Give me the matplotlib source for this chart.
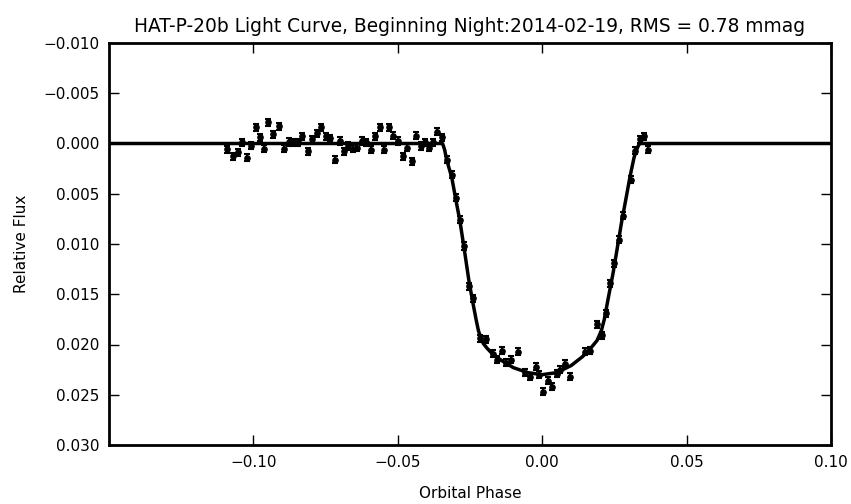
import numpy as np
import matplotlib
matplotlib.use("Agg")
import matplotlib.pyplot as plt

# --- light curve data (orbital phase, relative flux) ---
phase = [
    -0.1092, -0.1070, -0.1054, -0.1041, -0.1023, -0.1008, -0.0992, -0.0977,
    -0.0962, -0.0948, -0.0931, -0.0910, -0.0893, -0.0877, -0.0862, -0.0847,
    -0.0831, -0.0812, -0.0798, -0.0781, -0.0766, -0.0750, -0.0735, -0.0717,
    -0.0700, -0.0686, -0.0671, -0.0656, -0.0642, -0.0625, -0.0610, -0.0594,
    -0.0579, -0.0562, -0.0547, -0.0530, -0.0516, -0.0498, -0.0483, -0.0467,
    -0.0452, -0.0437, -0.0421, -0.0406, -0.0391, -0.0377, -0.0363, -0.0348,
    -0.0331, -0.0313, -0.0298, -0.0285, -0.0271, -0.0252, -0.0239, -0.0217,
    -0.0196, -0.0169, -0.0157, -0.0140, -0.0124, -0.0108, -0.0083, -0.0060,
    -0.0042, -0.0023, -0.0010, 0.0004, 0.0020, 0.0035, 0.0050, 0.0063,
    0.0079, 0.0096, 0.0148, 0.0166, 0.0189, 0.0206, 0.0221, 0.0235,
    0.0249, 0.0266, 0.0280, 0.0306, 0.0323, 0.0337, 0.0351, 0.0367,
]
flux = [
    0.00058, 0.00125, 0.00085, -0.0001, 0.0014, 0.0002, -0.0016, -0.0006,
    0.0005, -0.0021, -0.0009, -0.0017, 0.0005, -0.00015, -0.0001, -0.0001,
    -0.0007, 0.00075, -0.0004, -0.0010, -0.0016, -0.0007, -0.0005, 0.0016,
    -0.00025, 0.00075, 0.00025, 0.0005, 0.0004, -0.00025, -0.0001, 0.0006,
    -0.0007, -0.0016, 0.0006, -0.0016, -0.00075, -0.00025, 0.00125, 0.0004,
    0.00175, -0.00075, 0.00025, -0.0001, 0.0004, -0.0001, -0.00115, -0.0006,
    0.0016, 0.0031, 0.0054, 0.0076, 0.0102, 0.0142, 0.0154, 0.0194,
    0.0195, 0.0209, 0.0215, 0.0206, 0.0218, 0.0215, 0.0207, 0.0228,
    0.0232, 0.0222, 0.0230, 0.0247, 0.0236, 0.0242, 0.0229, 0.0225,
    0.0219, 0.0232, 0.0207, 0.0206, 0.0180, 0.0191, 0.0169, 0.0139,
    0.0119, 0.0096, 0.0072, 0.0036, 0.0007, -0.0004, -0.0007, 0.0006,
]
flux_err = 0.00035

# transit model
model_phase = [
    -0.150, -0.0345, -0.0338, -0.0331, -0.0313, -0.0299, -0.0285, -0.0271,
    -0.0253, -0.0239, -0.0229, -0.0221, -0.0212, -0.0204, -0.0190, -0.0170,
    -0.0140, -0.0100, -0.0050, 0.0000, 0.0050, 0.0100, 0.0140, 0.0170,
    0.0190, 0.0205, 0.0215, 0.0228, 0.0246, 0.0260, 0.0275, 0.0290,
    0.0304, 0.0318, 0.0327, 0.0335, 0.0340, 0.100,
]
model_flux = [
    0.0, 0.0, 0.0006, 0.0016, 0.0034, 0.0056, 0.0077, 0.0103,
    0.0138, 0.0160, 0.0175, 0.0186, 0.0194, 0.0199, 0.0204, 0.0210,
    0.0216, 0.0223, 0.0228, 0.0230, 0.0228, 0.0221, 0.0212, 0.0203,
    0.0196, 0.0186, 0.0175, 0.0155, 0.0128, 0.0104, 0.0078, 0.0055,
    0.0033, 0.0014, 0.0006, 0.0001, 0.0, 0.0,
]

xticks = [-0.10, -0.05, 0.00, 0.05, 0.10]
yticks = [-0.010, -0.005, 0.000, 0.005, 0.010, 0.015, 0.020, 0.025, 0.030]

fig = plt.figure(figsize=(8.51, 5.04), dpi=100)
ax = fig.add_axes([109 / 851, 1 - 445 / 504, 722 / 851, 402 / 504])

ax.plot(model_phase, model_flux, 'k-', linewidth=2.5, zorder=2)
ax.errorbar(phase, flux, yerr=flux_err, fmt='o', color='k', markersize=3.8,
            elinewidth=1.5, capsize=2.5, capthick=1.5, zorder=3)

ax.set_xlim(-0.15, 0.10)
ax.set_ylim(0.030, -0.010)
ax.set_xticks(xticks)
ax.set_yticks(yticks)

ax.tick_params(direction='in', length=7, width=1, labelsize=11,
               top=True, right=True, pad=7)
for s in ax.spines.values():
    s.set_linewidth(2)

ax.set_title("HAT-P-20b Light Curve, Beginning Night:2014-02-19, RMS = 0.78 mmag",
             fontsize=13.4, pad=8)
ax.set_xlabel("Orbital Phase", fontsize=11, labelpad=12)
ax.set_ylabel("Relative Flux", fontsize=11, labelpad=10)

fig.savefig("out.png", dpi=100)
